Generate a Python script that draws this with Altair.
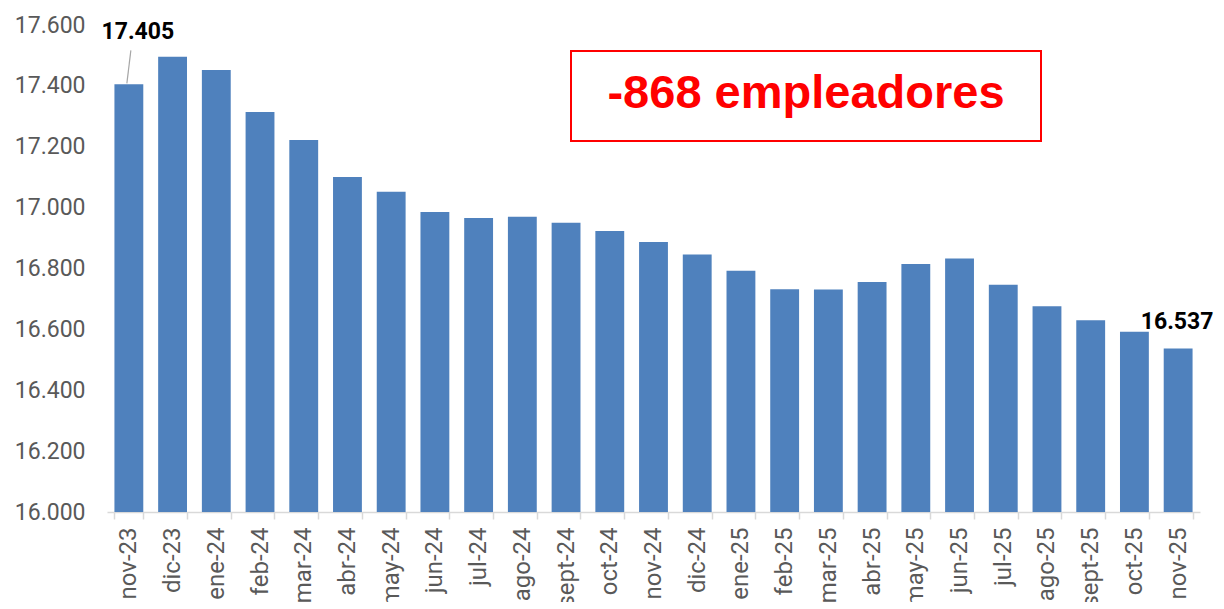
import altair as alt
import pandas as pd

months = ["nov-23", "dic-23", "ene-24", "feb-24", "mar-24", "abr-24", "may-24",
          "jun-24", "jul-24", "ago-24", "sept-24", "oct-24", "nov-24", "dic-24",
          "ene-25", "feb-25", "mar-25", "abr-25", "may-25", "jun-25", "jul-25",
          "ago-25", "sept-25", "oct-25", "nov-25"]
values = [17405, 17496, 17452, 17314, 17222, 17101, 17052,
          16986, 16966, 16970, 16950, 16923, 16887, 16846,
          16793, 16732, 16731, 16756, 16815, 16833, 16747,
          16676, 16630, 16592, 16537]

y_ticks = [16000, 16200, 16400, 16600, 16800, 17000, 17200, 17400, 17600]
annotation_text = "-868 empleadores"

df = pd.DataFrame({"month": months, "value": values})
first_df = df.iloc[[0]]
last_df = df.iloc[[-1]]

x_enc = alt.X("month:N", sort=months, title=None,
              scale=alt.Scale(paddingInner=0.34, paddingOuter=0.17),
              axis=alt.Axis(labelAngle=-90, labelFont="Roboto", labelFontSize=24,
                            labelColor="#595959", labelPadding=8,
                            domainColor="#d9d9d9", domainWidth=1.5,
                            tickColor="#d9d9d9", tickWidth=1.5, tickSize=7,
                            tickBand="extent", labelBaseline="middle", labelAlign="right"))
y_enc = alt.Y("value:Q", title=None,
              scale=alt.Scale(domain=[16000, 17600], nice=False, zero=False),
              axis=alt.Axis(values=y_ticks, grid=False, domain=False, ticks=False,
                            labelFont="Roboto", labelFontSize=23, labelColor="#595959",
                            labelPadding=22,
                            labelExpr="replace(format(datum.value, ',d'), ',', '.')"))

bars = alt.Chart(df).mark_bar(color="#4F81BD", clip=True).encode(x=x_enc, y=y_enc)

label_fmt = "replace(format(datum.value, ',d'), ',', '.')"

first_label = alt.Chart(first_df).transform_calculate(lbl=label_fmt).mark_text(
    font="Roboto", fontSize=23, fontWeight="bold", color="black",
    dx=9, dy=-52, baseline="middle", align="center"
).encode(x=alt.X("month:N", sort=months), y="value:Q", text="lbl:N")

leader = alt.Chart(first_df).mark_rule(
    color="#a6a6a6", strokeWidth=1.2, xOffset=-2, x2Offset=2, yOffset=-1, y2Offset=-34
).encode(x=alt.X("month:N", sort=months), x2=alt.X2("month"),
         y="value:Q", y2=alt.Y2("value"))

last_label = alt.Chart(last_df).transform_calculate(lbl=label_fmt).mark_text(
    font="Roboto", fontSize=23, fontWeight="bold", color="black",
    dx=-1, dy=-27, baseline="middle", align="center"
).encode(x=alt.X("month:N", sort=months), y="value:Q", text="lbl:N")

box_df = pd.DataFrame({"t": [annotation_text]})
box = alt.Chart(box_df).mark_rect(fill="white", stroke="#ff0000", strokeWidth=2).encode(
    x=alt.value(464), x2=alt.value(934), y=alt.value(26), y2=alt.value(116))
box_text = alt.Chart(box_df).mark_text(
    font="Liberation Sans", fontSize=47, fontWeight="bold", color="#ff0000",
    align="center", baseline="alphabetic"
).encode(x=alt.value(699), y=alt.value(83), text="t:N")

chart = alt.layer(bars, leader, first_label, last_label, box, box_text).properties(
    width=1093, height=487,
    background="white",
    autosize=alt.AutoSizeParams(type="none"),
    padding={"left": 99, "top": 17, "right": 16, "bottom": 90},
).configure_view(stroke=None)

chart.save("out.html", embed_options={"renderer": "svg", "actions": False})
